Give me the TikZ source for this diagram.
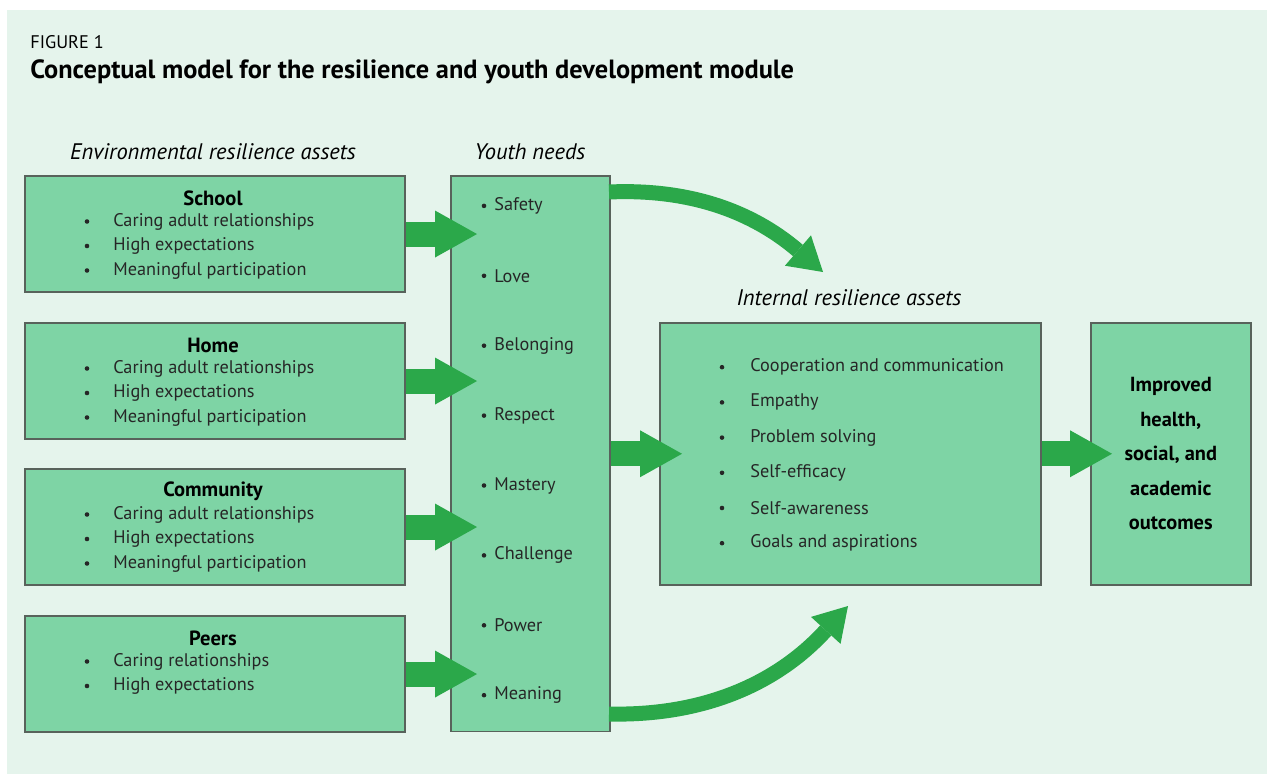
\documentclass[tikz,border=0pt]{standalone}
\usepackage{fontspec}
\setmainfont{PT Sans}
\usetikzlibrary{arrows.meta,positioning}

\definecolor{pagebg}{HTML}{E5F4EC}
\definecolor{boxfill}{HTML}{7ED4A5}
\definecolor{boxline}{HTML}{58625B}
\definecolor{arrowgreen}{HTML}{2BA84A}

\tikzset{
	assetbox/.style={draw=boxline, fill=boxfill, line width=0.9pt, inner sep=0pt, anchor=north west},
	boxhead/.style={font=\bfseries\fontsize{11.7}{13}\selectfont, inner sep=0pt},
	boxitem/.style={font=\fontsize{10.4}{12}\selectfont, anchor=west, inner sep=0pt, text=black!85},
	colhead/.style={font=\itshape\fontsize{12.8}{14}\selectfont, inner sep=0pt},
	bullet/.style={circle, fill=black!85, inner sep=0pt, minimum size=2.6pt},
	fat/.style={draw=arrowgreen, line width=0.5cm,
		-{Triangle[width=0.94cm, length=0.84cm, line width=0pt]}},
	curvedarrow/.style={draw=arrowgreen, line width=0.3cm,
		-{Triangle[width=0.8cm, length=0.66cm, line width=0pt]}}
}

\begin{document}
\begin{tikzpicture}[x=0.02cm, y=-0.02cm]
	
	\useasboundingbox (0,0) rectangle (1270,774);
	\fill[pagebg] (7,10) rectangle (1267,774);
	
	% titles
	\node[anchor=west, inner sep=0pt, font=\fontsize{10.4}{12}\selectfont] (fig) at (30,42) {FIGURE 1};
	\node[anchor=west, inner sep=0pt, font=\bfseries\fontsize{15}{17}\selectfont] (title) at (30,72)
	{Conceptual model for the resilience and youth development module};
	
	% environmental assets
	\node[colhead] (envhead) at (213,152) {Environmental resilience assets};
	\foreach \name/\top/\head/\items in {
		school/175/School/{Caring adult relationships,High expectations,Meaningful participation},
		home/322/Home/{Caring adult relationships,High expectations,Meaningful participation},
		community/468/Community/{Caring adult relationships,High expectations,Meaningful participation},
		peers/615/Peers/{Caring relationships,High expectations}}
	{
		\node[assetbox, minimum width=7.6cm, minimum height=2.33cm] (\name) at (24,\top) {};
		\node[boxhead] (\name-head) at (213,\top+23) {\head};
		\foreach \entry [count=\k] in \items {
			\node[bullet] (\name-dot\k) at (87,\top+22+\k*24.5) {};
			\node[boxitem] (\name-item\k) at (113,\top+22+\k*24.5) {\entry};
		}
	}
	
	% youth needs
	\node[colhead] (needhead) at (530,152) {Youth needs};
	\node[assetbox, minimum width=3.18cm, minimum height=11.12cm] (needs) at (450,175) {};
	\foreach \need [count=\k] in {Safety,Love,Belonging,Respect,Mastery,Challenge,Power,Meaning} {
		\node[bullet] (need-dot\k) at (484,136+\k*69.9) {};
		\node[boxitem] (need\k) at (494,136+\k*69.9) {\need};
	}
	
	% internal assets
	\node[colhead] (inthead) at (849,298) {Internal resilience assets};
	\node[assetbox, minimum width=7.62cm, minimum height=5.24cm] (internal) at (659,322) {};
	\foreach \asset [count=\k] in {Cooperation and communication,Empathy,Problem solving,
		Self-efficacy,Self-awareness,Goals and aspirations} {
		\node[bullet] (int-dot\k) at (722,332+\k*35.2) {};
		\node[boxitem] (int\k) at (750,332+\k*35.2) {\asset};
	}
	
	% outcomes
	\node[assetbox, minimum width=3.2cm, minimum height=5.24cm] (outcome) at (1090,322) {};
	\node[font=\bfseries\fontsize{11.6}{19.6}\selectfont, align=center, inner sep=0pt] (outtext) at (outcome.center)
	{Improved\\health,\\social, and\\academic\\outcomes};
	
	% arrows
	\foreach \name in {school,home,community,peers}
		\draw[fat, shorten >=-0.54cm] (\name.east) -- (\name.east -| needs.west);
	\draw[fat, shorten >=-0.46cm] (needs.east |- internal.west) -- (internal.west);
	\draw[fat, shorten >=-0.44cm] (internal.east) -- (outcome.west);
	
	\coordinate (topstart) at (609,192);
	\coordinate (toptip) at (823,272);
	\coordinate (lowstart) at (609,714);
	\coordinate (lowtip) at (848,606);
	\draw[curvedarrow] (topstart) .. controls (700,188) and (760,218) .. (toptip);
	\draw[curvedarrow] (lowstart) .. controls (700,716) and (775,686) .. (lowtip);
	
\end{tikzpicture}
\end{document}
